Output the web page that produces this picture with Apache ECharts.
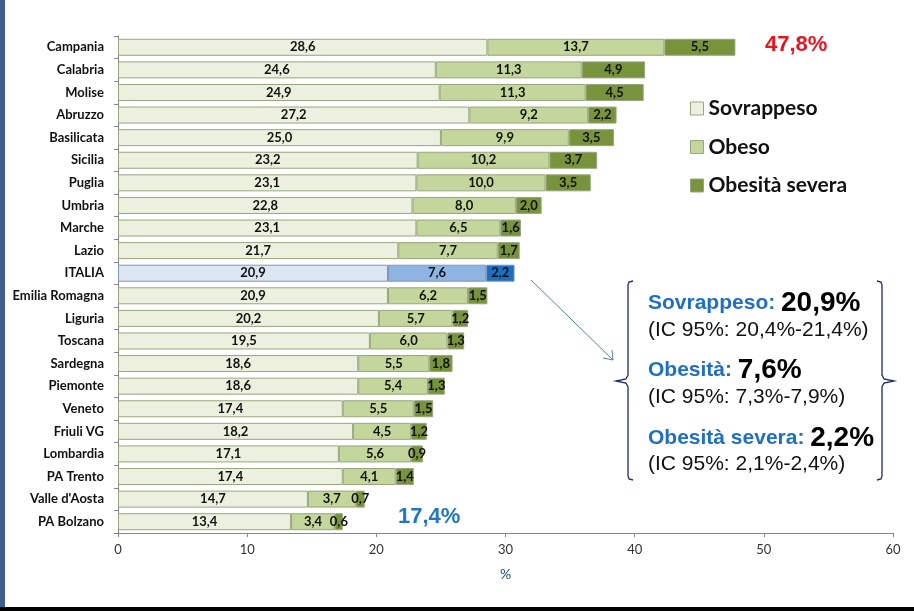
<!DOCTYPE html>
<html><head><meta charset="utf-8">
<script src="https://cdn.jsdelivr.net/npm/echarts@6/dist/echarts.min.js"></script>
<style>html,body{margin:0;padding:0;background:#fff}#c{width:914px;height:611px}</style>
</head><body><div id="c"></div>
<script>
const categories = ["Campania","Calabria","Molise","Abruzzo","Basilicata","Sicilia","Puglia","Umbria","Marche","Lazio","ITALIA","Emilia Romagna","Liguria","Toscana","Sardegna","Piemonte","Veneto","Friuli VG","Lombardia","PA Trento","Valle d'Aosta","PA Bolzano"];
const sovrappeso = [28.6,24.6,24.9,27.2,25.0,23.2,23.1,22.8,23.1,21.7,20.9,20.9,20.2,19.5,18.6,18.6,17.4,18.2,17.1,17.4,14.7,13.4];
const obeso = [13.7,11.3,11.3,9.2,9.9,10.2,10.0,8.0,6.5,7.7,7.6,6.2,5.7,6.0,5.5,5.4,5.5,4.5,5.6,4.1,3.7,3.4];
const severa = [5.5,4.9,4.5,2.2,3.5,3.7,3.5,2.0,1.6,1.7,2.2,1.5,1.2,1.3,1.8,1.3,1.5,1.2,0.9,1.4,0.7,0.6];
const xTicks = [0,10,20,30,40,50,60];
const seriesNames = ["Sovrappeso","Obeso","Obesità severa"];
const greenColors = ["#EBF1DE","#C3D69B","#77933C"];
const italiaColors = ["#DCE6F2","#8EB4E3","#1B6FC2"];
const highlight = "ITALIA";

const chart = echarts.init(document.getElementById('c'), null, {renderer:'canvas'});
const fmt = p => p.value.toFixed(1).replace('.', ',');
function mk(vals, idx){
  return {
    name: seriesNames[idx], type:'bar', stack:'t', barWidth:17,
    data: vals.map((v,i)=> categories[i]===highlight ? {value:v, itemStyle:{color:italiaColors[idx], borderColor:'#7F95B5'}} : v),
    itemStyle:{color:greenColors[idx], borderColor:'#98A67F', borderWidth:1},
    label:{show:true, position:'inside', formatter:fmt, color:'#111', fontFamily:'Lato', fontWeight:'bold', fontSize:13},
    emphasis:{disabled:true}
  };
}
const navy = '#1F2A6E';
const blue = '#1F6FC5';
function brace(xEdge, xLine, xTip){
  const s = Math.sign(xTip - xLine);
  const h = xEdge>xLine?1:-1;
  return [[xEdge,281],[xLine+h,282],[xLine,285],[xLine,375],[xLine+s*2,379],[xTip,381],[xLine+s*2,383],[xLine,387],[xLine,476],[xLine+h,479],[xEdge,480]];
}
const lbl = {fill:blue, font:'bold 21px "Liberation Sans"'};
const val = {fill:'#000', font:'bold 28px "Liberation Sans"'};
chart.setOption({
  animation:false,
  grid:{left:118, right:21, top:36, bottom:78, containLabel:false},
  xAxis:{type:'value', min:0, max:60, interval:10,
    name:'%', nameLocation:'middle', nameGap:34, nameTextStyle:{color:'#1F497D', fontSize:14, fontFamily:'Lato'},
    axisLine:{show:true, lineStyle:{color:'#868686'}}, axisTick:{show:true, length:4, lineStyle:{color:'#868686'}},
    splitLine:{show:false},
    axisLabel:{color:'#333', fontSize:13, fontFamily:'Lato', margin:10, formatter:v=>xTicks.includes(v)?String(v):''}},
  yAxis:{type:'category', data:categories, inverse:true,
    axisLine:{show:true, lineStyle:{color:'#868686'}}, axisTick:{show:true, length:4, lineStyle:{color:'#868686'}},
    axisLabel:{color:'#111', fontSize:13, fontWeight:'bold', fontFamily:'Lato', margin:14}},
  legend:{show:true, orient:'vertical', left:685, top:93, icon:'rect', itemWidth:13, itemHeight:13, itemGap:17.5,
    data:seriesNames, selectedMode:false,
    textStyle:{fontSize:21, fontWeight:'bold', fontFamily:'Lato', color:'#111', padding:[0,0,0,0]},
    itemStyle:{borderColor:'#98A67F', borderWidth:1}},
  series:[mk(sovrappeso,0), mk(obeso,1), mk(severa,2)],
  graphic:[
    {type:'rect', shape:{x:0,y:0,width:5,height:611}, style:{fill:'#3E5F8E'}, silent:true},
    {type:'rect', shape:{x:0,y:607,width:914,height:4}, style:{fill:'#000'}, silent:true},
    {type:'text', x:765, y:34, style:{text:'47,8%', fill:'#E8141E', font:'bold 22px "Liberation Sans"'}},
    {type:'text', x:398, y:506, style:{text:'17,4%', fill:'#1F77C4', font:'bold 22px "Liberation Sans"'}},
    {type:'line', shape:{x1:531,y1:280,x2:613,y2:360}, style:{stroke:'#4F81BD', lineWidth:1}},
    {type:'polyline', shape:{points:[[612,350],[613,360],[603,358]]}, style:{stroke:'#4F81BD', lineWidth:1, fill:null}},
    {type:'polyline', shape:{points:brace(633,628,616)}, style:{stroke:navy, lineWidth:1.3, fill:null}},
    {type:'polyline', shape:{points:brace(877,882,894)}, style:{stroke:navy, lineWidth:1.3, fill:null}},
    {type:'text', x:648, y:289, style:{text:'{a|Sovrappeso: }{b|20,9%}', rich:{a:lbl, b:val}}},
    {type:'text', x:648, y:320, style:{text:'(IC 95%: 20,4%-21,4%)', fill:'#111', font:'21px "Liberation Sans"'}},
    {type:'text', x:648, y:356, style:{text:'{a|Obesità: }{b|7,6%}', rich:{a:lbl, b:val}}},
    {type:'text', x:648, y:387, style:{text:'(IC 95%: 7,3%-7,9%)', fill:'#111', font:'21px "Liberation Sans"'}},
    {type:'text', x:648, y:424, style:{text:'{a|Obesità severa: }{b|2,2%}', rich:{a:lbl, b:val}}},
    {type:'text', x:648, y:454, style:{text:'(IC 95%: 2,1%-2,4%)', fill:'#111', font:'21px "Liberation Sans"'}}
  ]
});
</script></body></html>
